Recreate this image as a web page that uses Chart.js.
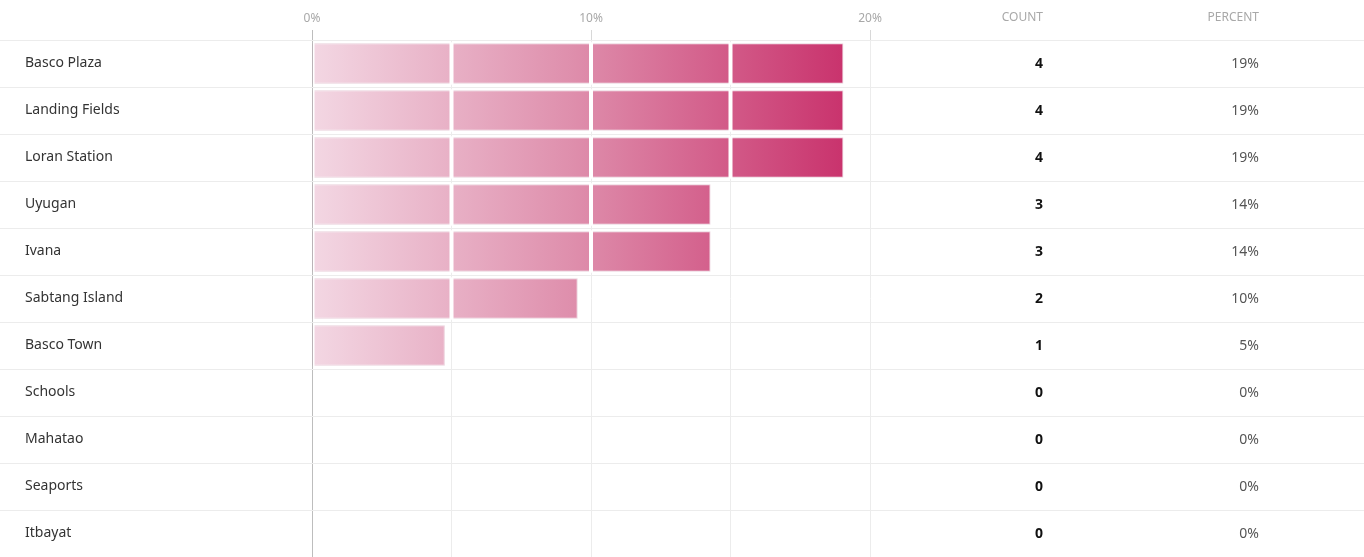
<!DOCTYPE html>
<html>
<head>
<meta charset="utf-8">
<script src="https://cdn.jsdelivr.net/npm/chart.js@4"></script>
<style>
	html, body { margin: 0; padding: 0; background: #fff; }
	#wrap { width: 1364px; height: 557px; position: relative; }
</style>
</head>
<body>
<div id="wrap"><canvas id="chart"></canvas></div>
<script>
// Data
const categories = ['Basco Plaza', 'Landing Fields', 'Loran Station', 'Uyugan', 'Ivana', 'Sabtang Island', 'Basco Town', 'Schools', 'Mahatao', 'Seaports', 'Itbayat'];
const counts = [4, 4, 4, 3, 3, 2, 1, 0, 0, 0, 0];
const percents = [19, 19, 19, 14, 14, 10, 5, 0, 0, 0, 0];
const totalResponses = 21;
const xTicks = [0, 5, 10, 15, 20];

const FONT = "'Noto Sans', 'Open Sans', sans-serif";

let gradCache = null;
function barGradient(chart) {
	const area = chart.chartArea;
	if (!area) return '#e08aab';
	const x = chart.scales.x;
	const x0 = x.getPixelForValue(0);
	const x1 = x.getPixelForValue(4 / totalResponses * 100);
	if (gradCache && gradCache.x0 === x0 && gradCache.x1 === x1) return gradCache.g;
	const g = chart.ctx.createLinearGradient(x0, 0, x1, 0);
	g.addColorStop(0, '#f3d7e3');
	g.addColorStop(0.5, '#de8dab');
	g.addColorStop(1, '#c9336d');
	gradCache = { x0, x1, g };
	return g;
}

// row dividers, white gaps at each 5% step, count / percent columns
const tablePlugin = {
	id: 'tablePlugin',
	beforeDatasetsDraw(chart) {
		const { ctx } = chart;
		const y = chart.scales.y;
		const rowH = (y.bottom - y.top) / categories.length;
		ctx.save();
		ctx.strokeStyle = '#ececec';
		ctx.lineWidth = 1;
		for (let i = 0; i < categories.length; i++) {
			const yy = Math.round(y.top + i * rowH) + 0.5;
			ctx.beginPath();
			ctx.moveTo(0, yy);
			ctx.lineTo(chart.width, yy);
			ctx.stroke();
		}
		ctx.restore();
	},
	afterDatasetsDraw(chart) {
		const { ctx } = chart;
		const x = chart.scales.x;
		const bars = chart.getDatasetMeta(0).data;
		ctx.save();
		ctx.fillStyle = '#ffffff';
		bars.forEach((bar) => {
			if (bar.x - bar.base < 1) return;
			const top = bar.y - bar.height / 2 - 1;
			ctx.fillRect(bar.base + 0.5, top, 1.5, bar.height + 2);
			xTicks.forEach((v) => {
				const px = x.getPixelForValue(v);
				if (v > 0 && px < bar.x - 2) ctx.fillRect(px - 2, top, 4, bar.height + 2);
			});
		});
		ctx.restore();
	},
	afterDraw(chart) {
		const { ctx } = chart;
		const y = chart.scales.y;
		ctx.save();
		ctx.textAlign = 'right';
		ctx.textBaseline = 'middle';
		ctx.font = '12px ' + FONT;
		ctx.fillStyle = '#a8a8a8';
		ctx.fillText('COUNT', 1043, 18);
		ctx.fillText('PERCENT', 1259, 18);
		categories.forEach((c, i) => {
			const yy = y.getPixelForValue(i) + 1;
			ctx.font = 'bold 14px ' + FONT;
			ctx.fillStyle = '#111';
			ctx.fillText(String(counts[i]), 1043, yy);
			ctx.font = '14px ' + FONT;
			ctx.fillStyle = '#555';
			ctx.fillText(percents[i] + '%', 1259, yy);
		});
		ctx.restore();
	},
};

new Chart(document.getElementById('chart'), {
	type: 'bar',
	data: {
		labels: categories,
		datasets: [{
			label: 'Percent',
			data: counts.map((c) => (c / totalResponses) * 100),
			backgroundColor: (ctx) => barGradient(ctx.chart),
			borderColor: 'rgba(160, 40, 90, 0.22)',
			borderWidth: 1,
			borderSkipped: false,
			categoryPercentage: 0.86,
			barPercentage: 1,
		}],
	},
	options: {
		indexAxis: 'y',
		responsive: true,
		maintainAspectRatio: false,
		animation: false,
		events: [],
		layout: { padding: { left: 25, right: 494, top: 0, bottom: 0 } },
		plugins: { legend: { display: false }, tooltip: { enabled: false } },
		scales: {
			x: {
				position: 'top',
				min: 0,
				max: 20,
				afterBuildTicks: (scale) => { scale.ticks = xTicks.map((v) => ({ value: v })); },
				afterFit: (scale) => { scale.height = 40; },
				ticks: {
					color: '#a8a8a8',
					font: { family: FONT, size: 12 },
					padding: 4,
					callback: (v) => (v % 10 === 0 ? v + '%' : ''),
				},
				grid: {
					color: (ctx) => (ctx.tick && ctx.tick.value === 0 ? '#bdbdbd' : '#ececec'),
					tickColor: (ctx) => (ctx.tick && ctx.tick.value % 10 === 0 ? (ctx.tick.value === 0 ? '#bdbdbd' : '#d8d8d8') : 'rgba(0,0,0,0)'),
					tickLength: 10,
					drawTicks: true,
				},
				border: { display: false },
			},
			y: {
				afterFit: (scale) => {
					scale.width = 312 - 25;
					scale.paddingTop = 0;
					scale.paddingBottom = 0;
				},
				ticks: {
					crossAlign: 'far',
					color: '#333',
					font: { family: FONT, size: 14 },
					padding: 0,
				},
				grid: { display: false },
				border: { display: true, color: '#bdbdbd' },
			},
		},
	},
	plugins: [tablePlugin],
});
</script>
</body>
</html>
